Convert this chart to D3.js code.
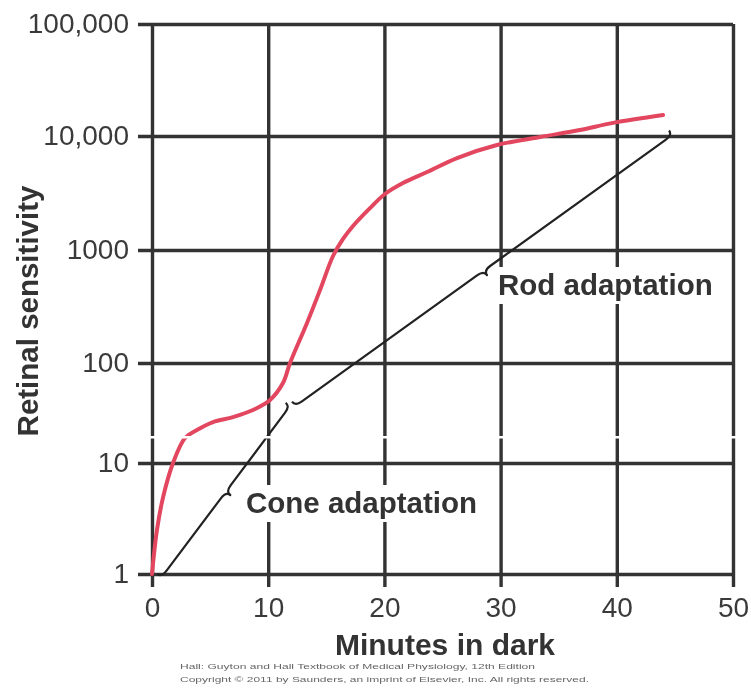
<!DOCTYPE html>
<html>
<head>
<meta charset="utf-8">
<script src="https://cdn.jsdelivr.net/npm/d3@7/dist/d3.min.js"></script>
<style>
  html, body { margin: 0; padding: 0; background: #fff; }
  svg { display: block; filter: blur(0.45px); }
</style>
</head>
<body>
<svg id="chart" width="751" height="691"></svg>
<script>
// ---- data ----
const xTicks = [0, 10, 20, 30, 40, 50];
const yTicks = [1, 10, 100, 1000, 10000, 100000];
const yTickLabels = ["1", "10", "100", "1000", "10,000", "100,000"];

// Total dark adaptation curve (minutes, relative sensitivity)
const curveMinutes = [0, 0.43, 0.95, 1.81, 2.84, 3.87, 5.25, 6.97, 8.69, 10.16, 11.27, 11.88, 13.34, 14.46, 15.58, 16.44, 17.3, 18.76, 20.05, 21.6, 23.67, 26.25, 29.69, 33.39, 36.83, 39.67, 43.98];
const curveSensitivity = [1, 2.5, 4.9, 10, 17.8, 21.4, 25.7, 28.8, 33.9, 42.7, 63, 100, 226, 442, 885, 1250, 1625, 2330, 3100, 3870, 4830, 6410, 8340, 9800, 11300, 13100, 15400];

// Braces: start / end (minutes, sensitivity)
const braceNames = ["Cone adaptation", "Rod adaptation"];
const braceStartMinutes = [0.45, 12.05];
const braceStartValues = [1, 41];
const braceEndMinutes = [11.5, 44.5];
const braceEndValues = [40, 11200];

const xTitle = "Minutes in dark";
const yTitle = "Retinal sensitivity";
const creditLines = [
  "Hall: Guyton and Hall Textbook of Medical Physiology, 12th Edition",
  "Copyright \u00A9 2011 by Saunders, an imprint of Elsevier, Inc. All rights reserved."
];

// ---- scales ----
const svg = d3.select("#chart");
const x = d3.scaleLinear().domain([0, 50]).range([152, 733]);
const y = d3.scaleLog().domain(yTicks).range([574, 463, 363, 250, 136, 24]);

const gridColor = "#333";
const textColor = "#3a3a3a";
const font = "'Liberation Sans', Arial, Helvetica, sans-serif";

// ---- grid via axes ----
const yAxis = d3.axisLeft(y)
  .tickValues(yTicks)
  .tickFormat((d, i) => yTickLabels[i])
  .tickSize(x(50) - x(0) + 14)
  .tickPadding(9);
const gy = svg.append("g").attr("transform", `translate(${x(50)},0)`).call(yAxis);

const xAxis = d3.axisBottom(x)
  .tickValues(xTicks)
  .tickFormat(d3.format("d"))
  .tickSize(y(1) - y(100000) + 13)
  .tickPadding(10);
const gx = svg.append("g").attr("transform", `translate(0,${y(100000)})`).call(xAxis);

[gx, gy].forEach(g => {
  g.select(".domain").remove();
  g.selectAll(".tick line").attr("stroke", gridColor).attr("stroke-width", 3.4);
  g.selectAll(".tick text")
    .attr("fill", textColor)
    .style("font-family", font)
    .style("font-size", "28px");
});

// ---- annotation labels with white backgrounds ----
const labelPos = [[246, 513], [498, 295]];
braceNames.forEach((name, i) => {
  const t = svg.append("text")
    .attr("x", labelPos[i][0]).attr("y", labelPos[i][1])
    .attr("fill", "#333")
    .style("font-family", font)
    .style("font-weight", "bold")
    .style("font-size", "29.5px")
    .text(name);
  const bb = t.node().getBBox();
  svg.append("rect")
    .attr("x", bb.x - 4).attr("y", bb.y - 1)
    .attr("width", bb.width + 8).attr("height", bb.height + 4)
    .attr("fill", "#fff");
  t.raise();
});

// ---- braces (straight bar, small end hooks, small central cusp) ----
function bracePath(x1, y1, x2, y2, h) {
  let ux = x2 - x1, uy = y2 - y1;
  const len = Math.hypot(ux, uy);
  ux /= len; uy /= len;
  let nx = -uy, ny = ux;
  if (nx + ny < 0) { nx = -nx; ny = -ny; }
  const mx = (x1 + x2) / 2, my = (y1 + y2) / 2;
  const P = (bx, by, a, b) => [bx + ux * a + nx * b, by + uy * a + ny * b];
  const s = (q) => q[0].toFixed(2) + "," + q[1].toFixed(2);
  const A = [x1, y1];
  const c1 = P(x1, y1, 0, h), B = P(x1, y1, h * 1.5, h);
  const C = P(mx, my, -h * 1.5, h), c2 = P(mx, my, 0, h), D = P(mx, my, 0, 2 * h);
  const E = P(mx, my, h * 1.5, h);
  const F = P(x2, y2, -h * 1.5, h), c3 = P(x2, y2, 0, h), G = [x2, y2];
  return `M${s(A)} Q${s(c1)} ${s(B)} L${s(C)} Q${s(c2)} ${s(D)} Q${s(c2)} ${s(E)} L${s(F)} Q${s(c3)} ${s(G)}`;
}
braceNames.forEach((name, i) => {
  svg.append("path")
    .attr("d", bracePath(x(braceStartMinutes[i]), y(braceStartValues[i]),
                         x(braceEndMinutes[i]), y(braceEndValues[i]), 5.5))
    .attr("fill", "none")
    .attr("stroke", "#222")
    .attr("stroke-width", 2.2)
    .attr("stroke-linejoin", "round");
});

// ---- red curve ----
const pts = curveMinutes.map((m, i) => [m, curveSensitivity[i]]);
const line = d3.line()
  .x(d => x(d[0]))
  .y(d => y(d[1]))
  .curve(d3.curveCatmullRom.alpha(0.5));
svg.append("path")
  .datum(pts)
  .attr("d", line)
  .attr("fill", "none")
  .attr("stroke", "#e2475f")
  .attr("stroke-width", 4)
  .attr("stroke-linecap", "round");

// ---- scan seam (white band in reference) ----
svg.append("rect")
  .attr("x", 140).attr("y", 436).attr("width", 611).attr("height", 2.5)
  .attr("fill", "#fff");

// ---- titles ----
svg.append("text")
  .attr("x", 445).attr("y", 655)
  .attr("text-anchor", "middle")
  .attr("fill", "#333")
  .style("font-family", font).style("font-weight", "bold").style("font-size", "30px")
  .text(xTitle);

svg.append("text")
  .attr("transform", "translate(38,311) rotate(-90)")
  .attr("text-anchor", "middle")
  .attr("fill", "#333")
  .style("font-family", font).style("font-weight", "bold").style("font-size", "29.5px")
  .text(yTitle);

const creditWidths = [355, 409];
creditLines.forEach((s, i) => {
  svg.append("text")
    .attr("x", 180).attr("y", 669 + i * 13)
    .attr("fill", "#666")
    .attr("textLength", creditWidths[i])
    .attr("lengthAdjust", "spacingAndGlyphs")
    .style("font-family", font).style("font-size", "7.5px")
    .text(s);
});
</script>
</body>
</html>
